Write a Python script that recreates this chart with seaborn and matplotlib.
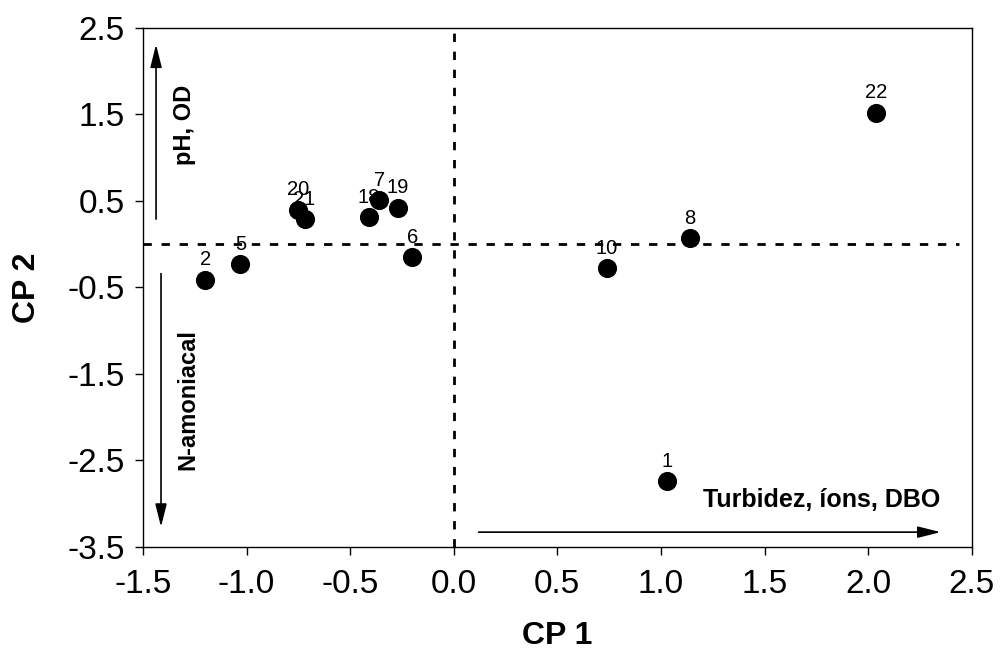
import matplotlib
matplotlib.use("Agg")
import matplotlib.pyplot as plt
import seaborn as sns
import pandas as pd

# Sample scores on the first two principal components
site_ids = ["22", "8", "10", "1", "2", "5", "20", "21", "18", "7", "19", "6"]
cp1 = [2.04, 1.14, 0.74, 1.03, -1.20, -1.03, -0.75, -0.72, -0.41, -0.36, -0.27, -0.20]
cp2 = [1.52, 0.07, -0.28, -2.74, -0.41, -0.23, 0.40, 0.29, 0.31, 0.51, 0.42, -0.15]

x_ticks = [-1.5, -1.0, -0.5, 0.0, 0.5, 1.0, 1.5, 2.0, 2.5]
y_ticks = [2.5, 1.5, 0.5, -0.5, -1.5, -2.5, -3.5]

df = pd.DataFrame({"CP1": cp1, "CP2": cp2, "site": site_ids})

sns.set_style("ticks")
plt.rcParams["font.family"] = ["Liberation Sans", "DejaVu Sans"]
plt.rcParams["text.color"] = "black"
plt.rcParams["axes.labelcolor"] = "black"

fig = plt.figure(figsize=(10.07, 6.51), dpi=100)
ax = fig.add_axes([0.142, 0.160, 0.823, 0.797])

# Reference lines through the origin
dash = (0, (3, 3.5))
ax.axhline(0, xmin=0, xmax=0.985, color="black", lw=2, linestyle=dash, zorder=1)
ax.axvline(0, color="black", lw=2, linestyle=dash, zorder=1)

# Point labels sit under the markers
for _, r in df.iterrows():
    ax.annotate(r["site"], (r["CP1"], r["CP2"]), xytext=(0, 7.5),
                textcoords="offset points", ha="center", va="bottom",
                fontsize=14.5, color="black", zorder=2)

sns.scatterplot(data=df, x="CP1", y="CP2", ax=ax, color="black", s=190,
                edgecolor="black", linewidth=0, zorder=3, legend=False)

# Loading direction arrows
arrow_kw = dict(arrowstyle="-|>,head_length=1.4,head_width=0.35",
                color="black", lw=1.2, shrinkA=0, shrinkB=0)
ax.annotate("", xy=(-1.437, 2.31), xytext=(-1.437, 0.29), arrowprops=arrow_kw)
ax.annotate("", xy=(-1.413, -3.27), xytext=(-1.413, -0.34), arrowprops=arrow_kw)
ax.annotate("", xy=(2.35, -3.33), xytext=(0.12, -3.33), arrowprops=arrow_kw)

ax.text(-1.30, 1.38, "pH, OD", rotation=90, ha="center", va="center",
        fontsize=17, fontweight="bold")
ax.text(-1.285, -1.80, "N-amoniacal", rotation=90, ha="center", va="center",
        fontsize=17, fontweight="bold")
ax.text(2.35, -2.96, "Turbidez, íons, DBO", ha="right", va="center",
        fontsize=18, fontweight="bold")

ax.set_xlim(-1.5, 2.5)
ax.set_ylim(-3.5, 2.5)
ax.set_xticks(x_ticks)
ax.set_xticklabels([f"{v:.1f}" for v in x_ticks])
ax.set_yticks(y_ticks)
ax.set_yticklabels([f"{v:.1f}" for v in y_ticks])
ax.tick_params(axis="both", direction="out", length=6, width=1,
               labelsize=24, color="black", labelcolor="black")
ax.tick_params(axis="x", pad=10)
ax.tick_params(axis="y", pad=7)

for sp in ax.spines.values():
    sp.set_visible(True)
    sp.set_linewidth(1)
    sp.set_color("black")

ax.set_xlabel("CP 1", fontsize=23, fontweight="bold", labelpad=15)
ax.set_ylabel("CP 2", fontsize=23, fontweight="bold", labelpad=18)

fig.savefig("out.png", dpi=100, facecolor="white")
